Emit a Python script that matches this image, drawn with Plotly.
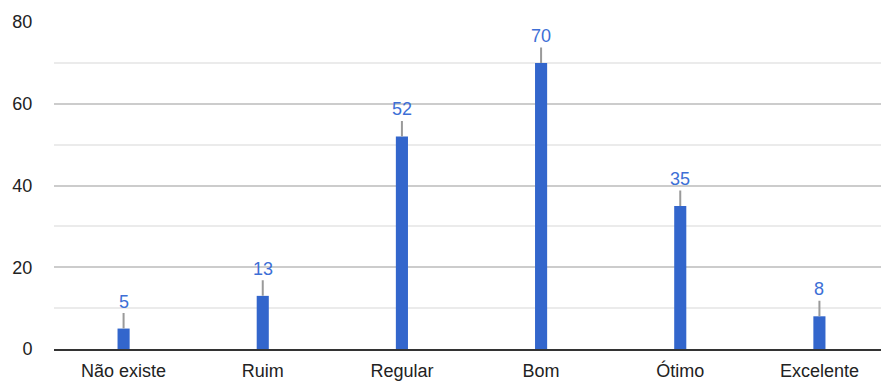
import plotly.graph_objects as go

categories = ["Não existe", "Ruim", "Regular", "Bom", "Ótimo", "Excelente"]
values = [5, 13, 52, 70, 35, 8]
y_ticks = [0, 20, 40, 60, 80]
y_minor = [10, 30, 50, 70]

fig = go.Figure()
fig.add_trace(go.Bar(x=categories, y=values, marker_color="#3366cc", width=0.087,
                     marker_line_width=0, hoverinfo="skip"))

for c, v in zip(categories, values):
    fig.add_annotation(x=c, y=v, text=str(v), showarrow=True, arrowhead=0,
                       arrowwidth=2, arrowcolor="#9a9a9a", ax=0, ay=-27,
                       font=dict(family="Liberation Sans, Arial", size=18, color="#3d6fd6"))

fig.update_layout(
    width=881, height=375,
    margin=dict(l=46, r=0, t=14, b=34),
    plot_bgcolor="white", paper_bgcolor="white",
    showlegend=False,
    font=dict(family="Liberation Sans, Arial", size=18, color="#222"),
    xaxis=dict(showline=True, linecolor="#333", linewidth=2, showgrid=False,
               ticks="outside", ticklen=4, tickcolor="rgba(0,0,0,0)",
               tickfont=dict(size=18, color="#222")),
    yaxis=dict(range=[0, 80], tickvals=y_ticks, showgrid=True, gridcolor="#cccccc",
               gridwidth=2, zeroline=False, ticks="outside", ticklen=17,
               tickcolor="rgba(0,0,0,0)", tickfont=dict(size=18, color="#222"),
               minor=dict(tickvals=y_minor, showgrid=True, gridcolor="#ebebeb", gridwidth=2)),
)

fig.write_html("out.html")
